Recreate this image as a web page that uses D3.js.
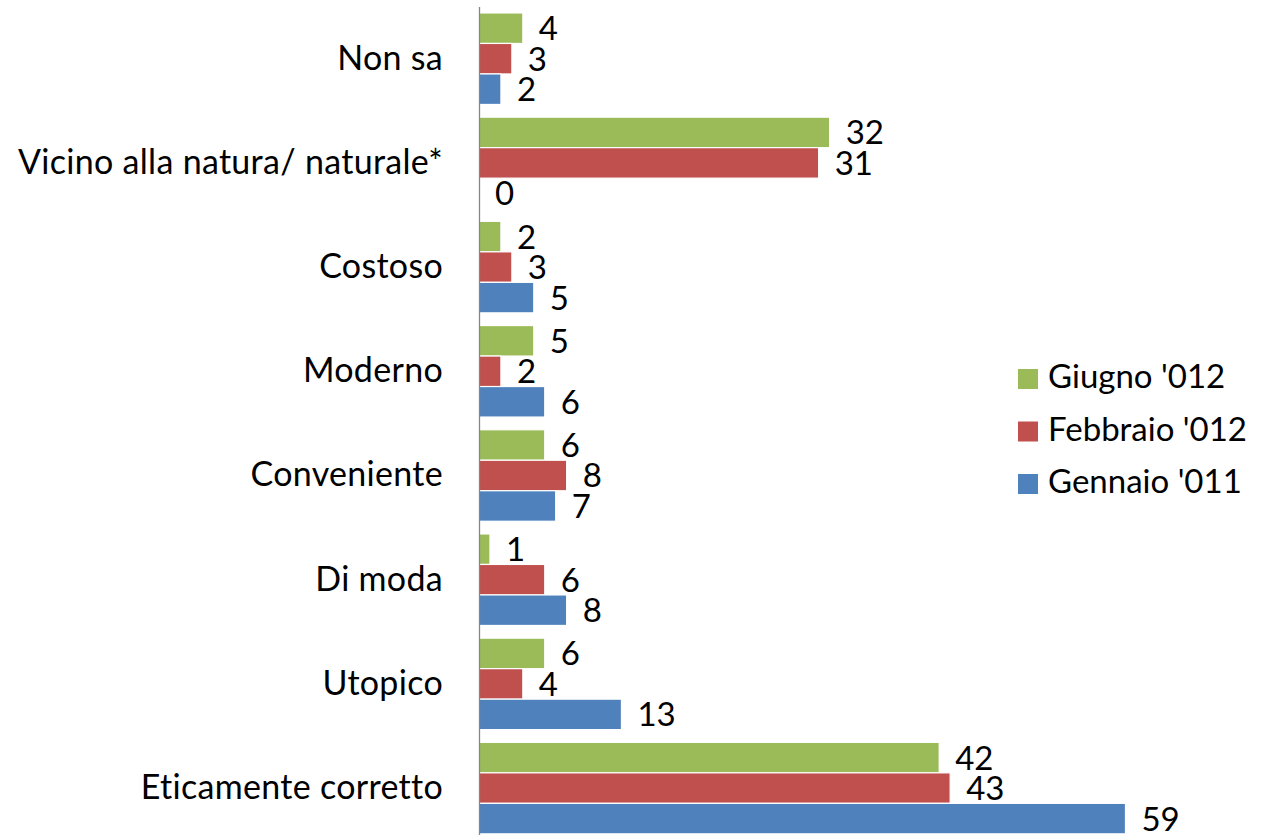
<!DOCTYPE html>
<html>
<head>
<meta charset="utf-8">
<script src="https://cdn.jsdelivr.net/npm/d3@7"></script>
<style>
  html, body { margin: 0; padding: 0; background: #fff; }
  svg { display: block; }
  text { font-family: Lato, "Open Sans", sans-serif; fill: #000; }
</style>
</head>
<body>
<svg id="chart" width="1261" height="835"></svg>
<script>
// data
const categories = ["Non sa", "Vicino alla natura/ naturale*", "Costoso", "Moderno",
                    "Conveniente", "Di moda", "Utopico", "Eticamente corretto"];
const seriesNames = ["Giugno '012", "Febbraio '012", "Gennaio '011"];
const giugno2012   = [4, 32, 2, 5, 6, 1, 6, 42];
const febbraio2012 = [3, 31, 3, 2, 8, 6, 4, 43];
const gennaio2011  = [2, 0, 5, 6, 7, 8, 13, 59];
const colors = ["#9BBB59", "#C0504D", "#4F81BD"];

const seriesValues = [giugno2012, febbraio2012, gennaio2011];
const rows = categories.map((c, i) => ({
  cat: c,
  vals: seriesNames.map((s, j) => ({ key: s, value: seriesValues[j][i], idx: j }))
}));

const svg = d3.select("#chart");
const fontSize = 33;

const x = d3.scaleLinear().domain([0, 70]).range([479, 1246]);
const y = d3.scaleBand()
    .domain(categories)
    .range([6.6, 840.2])
    .paddingInner(0.122)
    .paddingOuter(0.061);
const sub = d3.scaleBand()
    .domain(seriesNames)
    .range([0, y.bandwidth()]);

// bars
const groups = svg.append("g").attr("class", "bars")
  .selectAll("g")
  .data(rows)
  .join("g")
    .attr("transform", d => `translate(0,${y(d.cat)})`);

groups.selectAll("rect")
  .data(d => d.vals)
  .join("rect")
    .attr("x", x(0))
    .attr("y", d => sub(d.key))
    .attr("width", d => x(d.value) - x(0))
    .attr("height", sub.bandwidth())
    .attr("fill", d => colors[d.idx])
    .attr("stroke", "#fff")
    .attr("stroke-width", 1.2);

// value labels
groups.selectAll("text")
  .data(d => d.vals)
  .join("text")
    .attr("x", d => x(d.value) + 16)
    .attr("y", d => sub(d.key) + sub.bandwidth() / 2 + 12)
    .attr("font-size", fontSize)
    .text(d => d.value);

// category axis
const yAxis = svg.append("g")
    .attr("transform", `translate(${x(0)},0)`)
    .call(d3.axisLeft(y).tickSize(0).tickPadding(36));
yAxis.select(".domain").attr("stroke", "#868686").attr("stroke-width", 1.3);
yAxis.selectAll(".tick text")
    .attr("font-size", 34)
    .attr("letter-spacing", "0.3px")
    .attr("font-family", "Lato, 'Open Sans', sans-serif")
    .attr("fill", "#000");

// legend
const legend = svg.append("g")
    .attr("transform", "translate(1018,369)")
  .selectAll("g")
  .data(seriesNames)
  .join("g")
    .attr("transform", (d, i) => `translate(0,${i * 52.5})`);
legend.append("rect")
    .attr("width", 20).attr("height", 20)
    .attr("fill", (d, i) => colors[i]);
legend.append("text")
    .attr("x", 30)
    .attr("y", 19)
    .attr("font-size", fontSize)
    .text(d => d);
</script>
</body>
</html>
